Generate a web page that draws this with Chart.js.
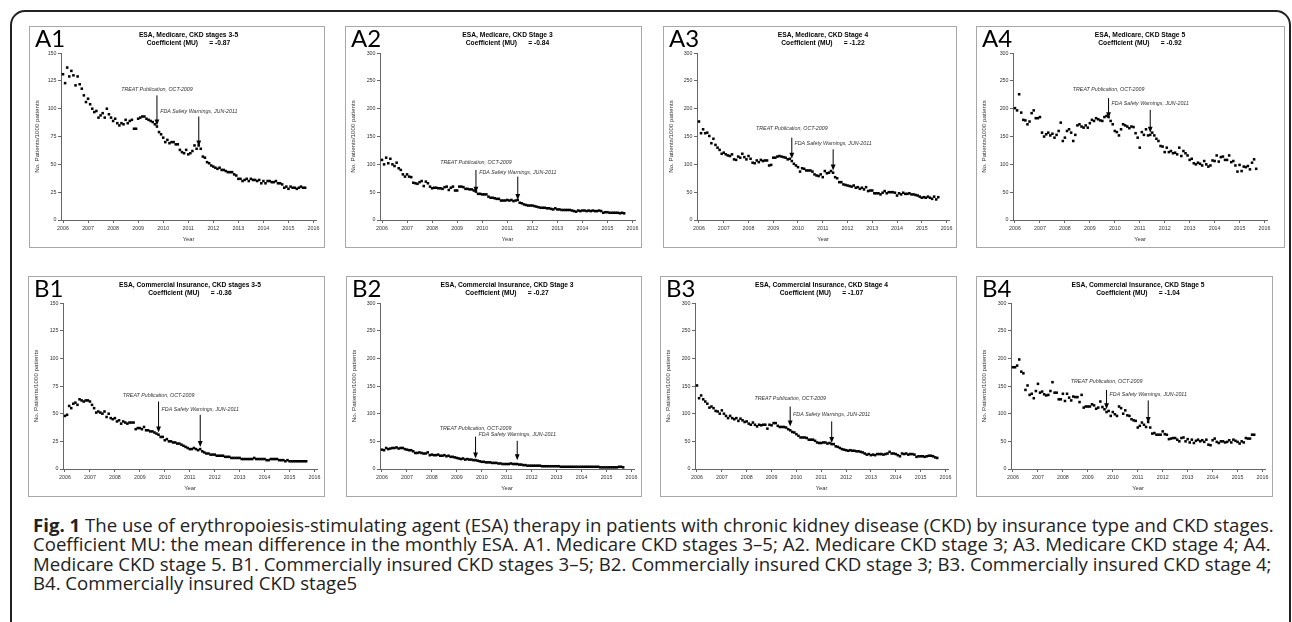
<!DOCTYPE html>
<html>
<head>
<meta charset="utf-8">
<script src="https://cdn.jsdelivr.net/npm/chart.js@4.4.0/dist/chart.umd.min.js"></script>
<style>
  html, body { margin: 0; padding: 0; background: #fff; overflow: hidden; }
  body { width: 1292px; height: 622px; position: relative; }
  #frame {
    position: absolute; left: 10px; top: 10px; width: 1281px; height: 700px;
    border: 2px solid #222; border-radius: 15px 15px 0 0; box-sizing: border-box;
  }
  .panel { position: absolute; box-shadow: inset 0 0 0 1px #a8a8a8; background: #fff; }
  .panel canvas { position: absolute; left: 0; top: 0; }
  .tag {
    position: absolute; font-family: Lato, "Open Sans", sans-serif; font-size: 24px;
    line-height: 24px; color: #000;
  }
  #caption {
    position: absolute; left: 33px; top: 515px; width: 1258px;
    font-family: "Open Sans", sans-serif; font-size: 18.6px; line-height: 19.4px;
    color: #222; white-space: nowrap;
  }
</style>
</head>
<body>
<div id="frame"></div>
<div id="panels"></div>
<div id="caption"><b>Fig. 1</b> The use of erythropoiesis-stimulating agent (ESA) therapy in patients with chronic kidney disease (CKD) by insurance type and CKD stages.<br>Coefficient MU: the mean difference in the monthly ESA. A1. Medicare CKD stages 3–5; A2. Medicare CKD stage 3; A3. Medicare CKD stage 4; A4.<br>Medicare CKD stage 5. B1. Commercially insured CKD stages 3–5; B2. Commercially insured CKD stage 3; B3. Commercially insured CKD stage 4;<br>B4. Commercially insured CKD stage5</div>

<script>
// monthly values, Jan 2006 .. Sep 2015 (one row per year)
const startYear = 2006;
const yearTicks = [2006, 2007, 2008, 2009, 2010, 2011, 2012, 2013, 2014, 2015, 2016];

const a1Values = [
  131,123,137,129,134,130,121,129,122,118,112,106,
  109,104,100,97,98,92,94,96,92,100,95,92,
  89,91,87,85,87,86,90,87,89,90,82,82,
  91,92,93,93,91,90,89,88,86,84,79,77,
  74,70,72,69,70,70,68,68,63,61,60,63,
  59,60,62,67,64,67,64,57,56,52,51,49,
  48,47,46,47,45,45,44,43,43,43,41,40,
  37,37,35,36,37,35,37,36,36,35,36,33,
  35,33,35,35,34,34,35,33,33,32,29,30,
  28,30,29,29,28,29,30,29,29
];
const a2Values = [
  108,100,112,102,110,100,97,103,93,90,82,78,
  82,78,77,67,66,65,68,70,61,69,66,60,
  57,58,58,57,57,56,59,60,54,58,60,53,
  53,60,60,59,56,56,55,55,53,51,47,47,
  46,46,46,42,40,40,39,38,38,35,35,35,
  36,35,36,34,35,36,31,30,28,27,26,26,
  26,25,24,23,22,22,22,21,21,20,19,21,
  19,19,18,18,18,18,18,17,16,15,17,16,
  17,17,16,17,16,17,16,16,17,16,13,14,
  14,13,13,13,13,13,12,13,12
];
const a3Values = [
  177,156,163,156,157,151,138,146,135,130,126,119,
  121,118,116,115,118,109,108,114,112,119,113,109,
  115,110,103,102,107,104,108,106,107,107,98,99,
  112,112,114,115,114,113,112,109,110,106,101,98,
  95,87,93,92,89,89,89,87,82,80,79,82,
  77,88,84,85,88,85,77,75,68,68,64,63,
  62,61,60,62,58,59,56,58,55,59,52,53,
  53,48,48,48,46,49,52,48,50,50,50,49,
  44,48,46,49,47,47,48,46,46,45,44,42,
  40,41,40,42,40,38,42,37,41
];
const a4Values = [
  201,197,226,193,180,179,172,177,192,197,183,183,
  185,157,150,154,157,152,155,148,153,160,175,142,
  148,160,163,157,142,153,170,172,168,166,170,166,
  174,180,178,183,181,179,178,185,187,185,178,172,
  160,158,152,163,172,170,168,165,168,167,156,148,
  130,158,153,163,152,153,157,152,146,142,133,132,
  122,130,122,124,120,121,118,130,115,124,120,116,
  108,110,102,100,103,101,98,106,100,96,98,107,
  106,116,105,113,114,108,108,116,104,106,98,87,
  99,88,96,95,97,91,103,109,92
];
const b1Values = [
  48,49,57,55,59,60,58,63,62,61,62,62,
  61,58,55,51,52,51,50,52,47,50,46,45,
  46,43,44,41,43,42,41,42,42,42,36,37,
  37,36,38,35,35,34,34,33,32,31,29,29,
  26,27,25,25,24,24,23,23,22,21,20,19,
  18,18,19,18,17,18,16,15,14,14,13,13,
  13,12,12,12,12,11,11,11,10,10,10,10,
  10,9,9,9,9,9,9,10,9,9,9,9,
  9,8,8,9,9,9,9,8,8,8,7,8,
  7,7,7,7,7,7,7,7,7
];
const b2Values = [
  35,34,38,36,37,38,38,39,37,38,38,36,
  35,34,34,32,29,29,30,29,28,28,30,25,
  26,25,25,26,24,24,25,23,24,22,22,21,
  20,19,18,19,17,18,17,17,16,16,15,14,
  13,13,12,12,12,11,11,11,10,10,9,9,
  9,9,10,9,9,9,8,8,7,7,6,6,
  6,6,6,6,6,5,5,5,5,5,5,5,
  5,5,4,4,4,4,4,4,4,4,4,4,
  4,4,4,4,4,4,4,4,4,3,3,3,
  3,3,3,3,3,3,4,4,3
];
const b3Values = [
  151,128,133,126,122,118,111,113,110,105,104,100,
  106,100,96,92,96,92,90,92,87,91,88,85,
  86,82,80,84,80,77,80,79,80,80,73,80,
  79,83,83,78,76,76,76,75,72,70,67,66,
  63,60,57,57,57,56,53,53,53,51,48,47,
  47,48,48,46,47,45,45,41,40,38,36,35,
  34,33,34,33,33,32,32,31,30,28,26,27,
  25,26,25,27,27,27,26,27,28,31,28,28,
  27,25,23,28,27,28,26,27,27,26,22,23,
  23,23,22,23,24,24,23,21,20
];
const b4Values = [
  184,184,187,198,176,173,143,151,134,136,128,141,
  154,138,140,135,133,134,141,157,138,138,126,126,
  136,123,136,129,124,131,130,130,121,134,111,113,
  113,113,117,115,109,111,122,112,108,103,105,96,
  103,99,96,113,110,100,106,97,96,90,88,87,
  75,78,84,80,76,85,75,64,65,62,62,62,
  68,63,62,54,55,56,56,53,50,56,57,50,
  54,48,53,47,51,53,50,52,49,53,44,43,
  52,55,49,47,50,50,48,49,52,48,53,51,
  49,46,50,48,56,55,55,62,62
];

const panelTitles = [
  'ESA, Medicare, CKD stages 3-5', 'ESA, Medicare, CKD Stage 3',
  'ESA, Medicare, CKD Stage 4', 'ESA, Medicare, CKD Stage 5',
  'ESA, Commercial Insurance, CKD stages 3-5', 'ESA, Commercial Insurance, CKD Stage 3',
  'ESA, Commercial Insurance, CKD Stage 4', 'ESA, Commercial Insurance, CKD Stage 5'
];
const coefficients = ['-0.87', '-0.84', '-1.22', '-0.92', '-0.36', '-0.27', '-1.07', '-1.04'];
const tags = ['A1', 'A2', 'A3', 'A4', 'B1', 'B2', 'B3', 'B4'];
const seriesList = [a1Values, a2Values, a3Values, a4Values, b1Values, b2Values, b3Values, b4Values];
const yMaxes = [150, 300, 300, 300, 150, 300, 300, 300];

// event markers: date, label, and label / arrow-start / arrow-tip heights in data units
const eventDates = [2009.75, 2011.42];
const eventLabels = ['TREAT Publication, OCT-2009', 'FDA Safety Warnings, JUN-2011'];
const eventHeights = [
  [[117.6, 112, 85], [97.5, 93, 66]],
  [[104, 90, 49], [85.5, 78, 36]],
  [[164, 148, 110], [137.6, 127, 89]],
  [[234, 219, 183], [210, 198, 157]],
  [[66, 61, 33], [54, 49, 20]],
  [[73.6, 58.5, 19], [63, 51, 16]],
  [[127, 113, 77], [99, 86, 47]],
  [[158, 143, 108], [134, 124, 83]]
];

// panel boxes: left, top, width, height, y-axis offset, right padding
const boxes = [
  [29, 26, 296, 222, 32, 9], [345, 26, 297, 222, 35, 7],
  [663, 26, 294, 222, 34, 8], [976, 26, 309, 222, 37, 18],
  [28, 276, 297, 221, 35, 8], [346, 276, 296, 221, 34, 8],
  [660, 276, 297, 221, 35, 9], [976, 276, 297, 221, 35, 8]
];

const FONT = '"Liberation Sans", Arial, sans-serif';
const AXIS = '#666';

const eventArrows = {
  id: 'eventArrows',
  afterDatasetsDraw(chart, args, opts) {
    const ctx = chart.ctx;
    const xs = chart.scales.x, ys = chart.scales.y;
    ctx.save();
    opts.events.forEach(ev => {
      const x = xs.getPixelForValue(ev.date);
      const yText = ys.getPixelForValue(ev.textAt);
      const yTop = ys.getPixelForValue(ev.from);
      const yTip = ys.getPixelForValue(ev.to);
      ctx.font = 'italic 5.3px ' + FONT;
      ctx.fillStyle = '#333';
      ctx.textAlign = 'center';
      ctx.textBaseline = 'middle';
      ctx.fillText(ev.label, x, yText);
      ctx.strokeStyle = '#000';
      ctx.lineWidth = 1;
      ctx.beginPath();
      ctx.moveTo(x, yTop);
      ctx.lineTo(x, yTip - 4);
      ctx.stroke();
      ctx.fillStyle = '#000';
      ctx.beginPath();
      ctx.moveTo(x, yTip);
      ctx.lineTo(x - 2.4, yTip - 6);
      ctx.lineTo(x + 2.4, yTip - 6);
      ctx.closePath();
      ctx.fill();
    });
    ctx.restore();
  }
};

const holder = document.getElementById('panels');

seriesList.forEach((values, i) => {
  const [left, top, w, h, yw, padRight] = boxes[i];
  const div = document.createElement('div');
  div.className = 'panel';
  div.style.left = left + 'px';
  div.style.top = top + 'px';
  div.style.width = w + 'px';
  div.style.height = h + 'px';
  const canvas = document.createElement('canvas');
  canvas.width = w;
  canvas.height = h;
  div.appendChild(canvas);
  const tag = document.createElement('div');
  tag.className = 'tag';
  tag.style.left = '6px';
  tag.style.top = '0px';
  tag.textContent = tags[i];
  div.appendChild(tag);
  holder.appendChild(div);

  const points = values.map((v, k) => ({ x: startYear + k / 12, y: v }));
  const events = eventDates.map((d, k) => ({
    date: d, label: eventLabels[k],
    textAt: eventHeights[i][k][0], from: eventHeights[i][k][1], to: eventHeights[i][k][2]
  }));

  new Chart(canvas.getContext('2d'), {
    type: 'scatter',
    data: {
      datasets: [{
        data: points,
        pointStyle: 'rect',
        pointRadius: 1.8,
        pointBorderWidth: 0,
        backgroundColor: '#000',
        borderColor: '#000'
      }]
    },
    options: {
      responsive: false,
      animation: false,
      layout: { padding: { left: 0, right: padRight, top: 0, bottom: 0 } },
      plugins: {
        legend: { display: false },
        tooltip: { enabled: false },
        title: {
          display: true,
          fullSize: false,
          text: [panelTitles[i], 'Coefficient (MU)      = ' + coefficients[i]],
          color: '#000',
          font: { family: FONT, size: 6.7, weight: 'bold', lineHeight: 1.2 },
          padding: { top: 5, bottom: 6 }
        },
        eventArrows: { events: events }
      },
      scales: {
        x: {
          type: 'linear',
          min: 2005.92,
          max: 2016.1,
          afterBuildTicks: s => { s.ticks = yearTicks.map(v => ({ value: v })); },
          afterFit: s => { s.height = 28; },
          ticks: {
            autoSkip: false, maxRotation: 0, padding: 2,
            color: '#333', font: { family: FONT, size: 5.3 },
            callback: v => String(v)
          },
          grid: { drawOnChartArea: false, tickLength: 3, color: AXIS },
          border: { color: AXIS },
          title: {
            display: true, text: 'Year', color: '#333',
            font: { family: FONT, size: 5.8 }, padding: { top: 0, bottom: 5 }
          }
        },
        y: {
          min: 0,
          max: yMaxes[i],
          afterFit: s => { s.width = yw; },
          ticks: {
            stepSize: yMaxes[i] / 6, padding: 1.5,
            color: '#333', font: { family: FONT, size: 5.3 }
          },
          grid: { drawOnChartArea: false, tickLength: 3, color: AXIS },
          border: { color: AXIS },
          title: {
            display: true, text: 'No. Patients/1000 patients', color: '#333',
            font: { family: FONT, size: 6.2 }, padding: { top: 5, bottom: 0 }
          }
        }
      }
    },
    plugins: [eventArrows]
  });
});
</script>
</body>
</html>
